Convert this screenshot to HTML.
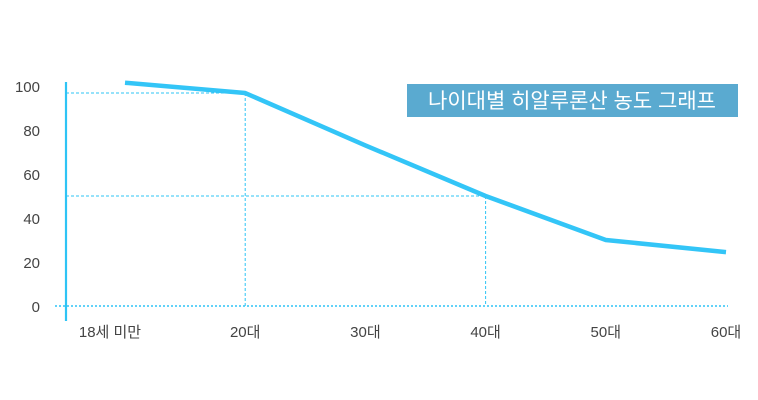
<!DOCTYPE html>
<html><head><meta charset="utf-8"><style>
html,body{margin:0;padding:0;background:#fff;}
svg{display:block;font-family:"Liberation Sans","Noto Sans CJK KR",sans-serif;}
</style></head><body>
<svg width="758" height="400" id="chart">
<rect x="407" y="84" width="331" height="33" fill="#5aaad0"/>
<text x="572" y="108" font-size="21" fill="#fff" text-anchor="middle">나이대별 히알루론산 농도 그래프</text>
<g id="grid"></g>
<line x1="66" y1="82" x2="66" y2="321" stroke="#2ec4f5" stroke-width="2.2"/>
<g id="yt"></g><g id="xt"></g>
<polyline id="ln" fill="none" stroke="#33c5f7" stroke-width="4.5" stroke-linejoin="round"/>
</svg>
<script>
const categories=["18세 미만","20대","30대","40대","50대","60대"];
const values=[101.5,96.8,73,50,30,24.5];
const yTicks=[0,20,40,60,80,100];
const guideIdx=[1,3];
const NS="http://www.w3.org/2000/svg";
const svg=document.getElementById('chart');
const x=i=>125+i*120.2;
const y=v=>306-v*2.2;
function mk(t,a,p){const e=document.createElementNS(NS,t);for(const k in a)e.setAttribute(k,a[k]);(p||svg).appendChild(e);return e;}
const yt=document.getElementById('yt'),xt=document.getElementById('xt'),grid=document.getElementById('grid');
yTicks.forEach(v=>{const t=mk('text',{x:40,y:y(v)+6,'font-size':15,fill:'#444','text-anchor':'end'},yt);t.textContent=v;

});
categories.forEach((c,i)=>{const t=mk('text',{x:i==0?110:x(i),y:337,'font-size':15,fill:'#444','text-anchor':'middle'},xt);t.textContent=c;

});
const b=mk('line',{x1:55,y1:y(0),x2:728,y2:y(0),stroke:'#2ec4f5','stroke-width':1.5,'stroke-dasharray':'2 2'},grid);


guideIdx.forEach(i=>{
const h=mk('line',{x1:66,y1:y(values[i]),x2:x(i),y2:y(values[i]),stroke:'#2ec4f5','stroke-width':1,'stroke-dasharray':'3 2'},grid);


const v=mk('line',{x1:x(i),y1:y(values[i]),x2:x(i),y2:y(0),stroke:'#2ec4f5','stroke-width':1,'stroke-dasharray':'3 2'},grid);

});
document.getElementById('ln').setAttribute('points',values.map((v,i)=>x(i)+','+y(v)).join(' '));
</script>
</body></html>
